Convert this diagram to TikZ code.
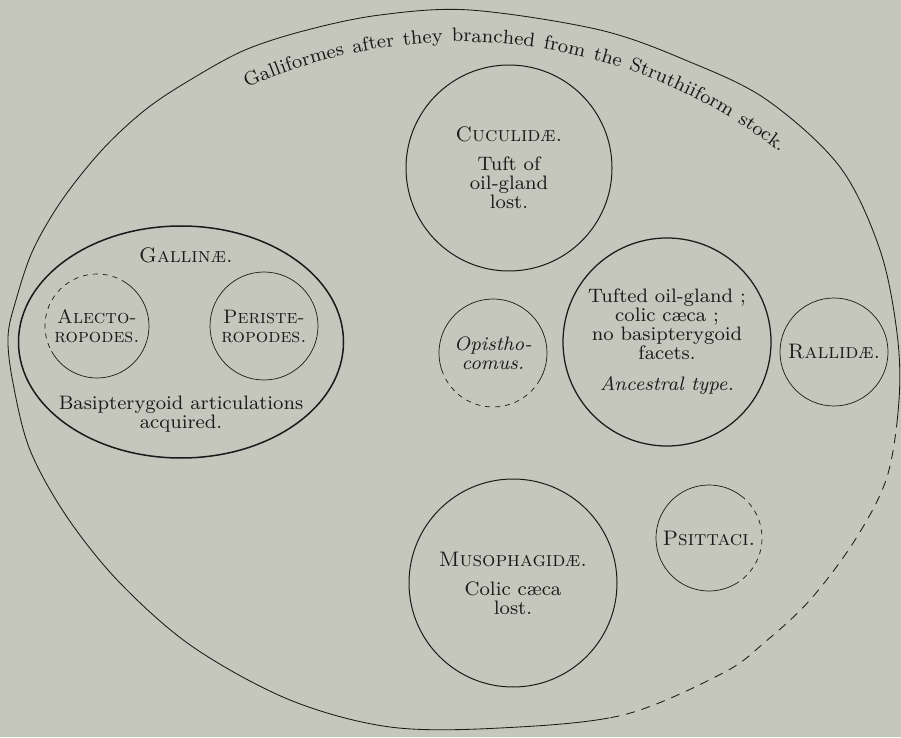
\documentclass[tikz,border=0pt]{standalone}
\usepackage{fontspec}
\setmainfont{lmroman8-regular}[Extension=.otf, ItalicFont=lmroman8-italic, BoldFont=lmroman8-bold, SmallCapsFont=lmromancaps10-regular]
\usetikzlibrary{shapes.geometric,decorations.text}
\definecolor{paper}{RGB}{197,199,189}
\definecolor{ink}{RGB}{26,26,24}
\newcommand{\bodyfont}{\fontsize{19.5}{19}\selectfont}
\newcommand{\titlefont}{\fontsize{19.5}{19.5}\selectfont}
\newcommand{\famname}[1]{{\fontsize{21}{19}\selectfont\textsc{#1}}}
\begin{document}
\begin{tikzpicture}[x=1pt,y=1pt,
  txt/.style={text=ink, font=\bodyfont, align=center, inner sep=0pt},
  ring/.style={circle, draw=ink, inner sep=0pt, outer sep=0pt, align=center, text=ink, font=\bodyfont},
  thinring/.style={ring, line width=0.7pt},
  ghost/.style={ring, draw=none},
  oval/.style={ellipse, draw=ink, inner sep=0pt, outer sep=0pt},
  broken/.style={draw=ink, line width=0.7pt, dash pattern=on 5pt off 5pt},
  whole/.style={draw=ink, line width=0.7pt},
  outline/.style={draw=ink, line width=0.85pt}]
\fill[paper] (0,0) rectangle (901,737);
\useasboundingbox (0,0) rectangle (901,737);

\def\outercurve{plot[smooth cycle, tension=0.55] coordinates {
 (470,727) (600,707) (690,675) (767,637) (840,570) (880,487) (897,404)
 (899,337) (887,260) (855,197) (810,137) (765,95) (723,64) (623,22)
 (500,9) (390,10) (290,37) (193,90) (120,154) (67,220) (30,287)
 (13,354) (8,400) (16,437) (33,487) (62,537) (102,587) (145,627)
 (190,657) (245,687) (307,707) (380,722)}}

% outer boundary: solid part
\begin{scope}
  \clip (454,368) -- (1000,300) -- (1000,800) -- (-50,800) -- (-50,-50) -- (640,-50) -- cycle;
  \draw[outline] \outercurve;
\end{scope}
% outer boundary: broken part (lower right)
\begin{scope}
  \clip (454,368) -- (1000,300) -- (1000,-50) -- (640,-50) -- cycle;
  \draw[outline, dash pattern=on 9pt off 7pt] \outercurve;
\end{scope}

% title along the outer boundary
\path[decorate, decoration={text along path, text align={fit to path stretching spaces},
  text={|\titlefont\color{ink}|Galliformes after they branched from the Struthiiform stock.}}]
  (247.0,649.0) arc[start angle=114.36, end angle=51.9, radius=517.6pt];

% Cuculidae
\node[ring, line width=1pt, minimum size=206pt] (cuculidae) at (509,569)
  {\famname{Cuculidæ.}\\[10pt]Tuft of\\oil-gland\\lost.};

% Ancestral type
\node[ring, line width=1.25pt, minimum size=208pt] (tufted) at (667,395)
  {Tufted oil-gland ;\\colic cæca ;\\no basipterygoid\\facets.\\[12pt]\textit{Ancestral type.}};

% Opisthocomus
\node[ghost, minimum size=108pt] (opistho) at (493,384) {\textit{Opistho-}\\\textit{comus.}};
\draw[whole] (opistho.-34) arc[start angle=-34, end angle=198, radius=54pt];
\draw[broken] (opistho.198) arc[start angle=198, end angle=326, radius=54pt];

% Rallidae
\node[thinring, minimum size=108pt] (rallidae) at (834,385) {\famname{Rallidæ.}};

% Musophagidae
\node[ring, line width=1pt, minimum size=208pt] (musophagidae) at (513,154)
  {\famname{Musophagidæ.}\\[10pt]Colic cæca\\lost.};

% Psittaci
\node[ghost, minimum size=106pt] (psittaci) at (709,199) {\famname{Psittaci.}};
\draw[whole] (psittaci.52) arc[start angle=52, end angle=299, radius=53pt];
\draw[broken] (psittaci.-61) arc[start angle=-61, end angle=52, radius=53pt];

% Gallinae
\node[oval, line width=1.5pt, minimum width=325pt, minimum height=232pt] (gallinae) at (181,395) {};
\node[txt] (gallinaetitle) at (186,482) {\famname{Gallinæ.}};
\node[txt] (gallinaenote) at (181,323) {Basipterygoid articulations\\acquired.};

\node[ghost, minimum size=104pt] (alecto) at (97,411) {\textsc{Alecto-}\\\textsc{ropodes.}};
\draw[whole] (alecto.56) arc[start angle=56, end angle=-151, radius=52pt];
\draw[broken] (alecto.56) arc[start angle=56, end angle=209, radius=52pt];

\node[thinring, minimum size=108pt] (peristero) at (264,411) {\textsc{Periste-}\\\textsc{ropodes.}};
\end{tikzpicture}
\end{document}
